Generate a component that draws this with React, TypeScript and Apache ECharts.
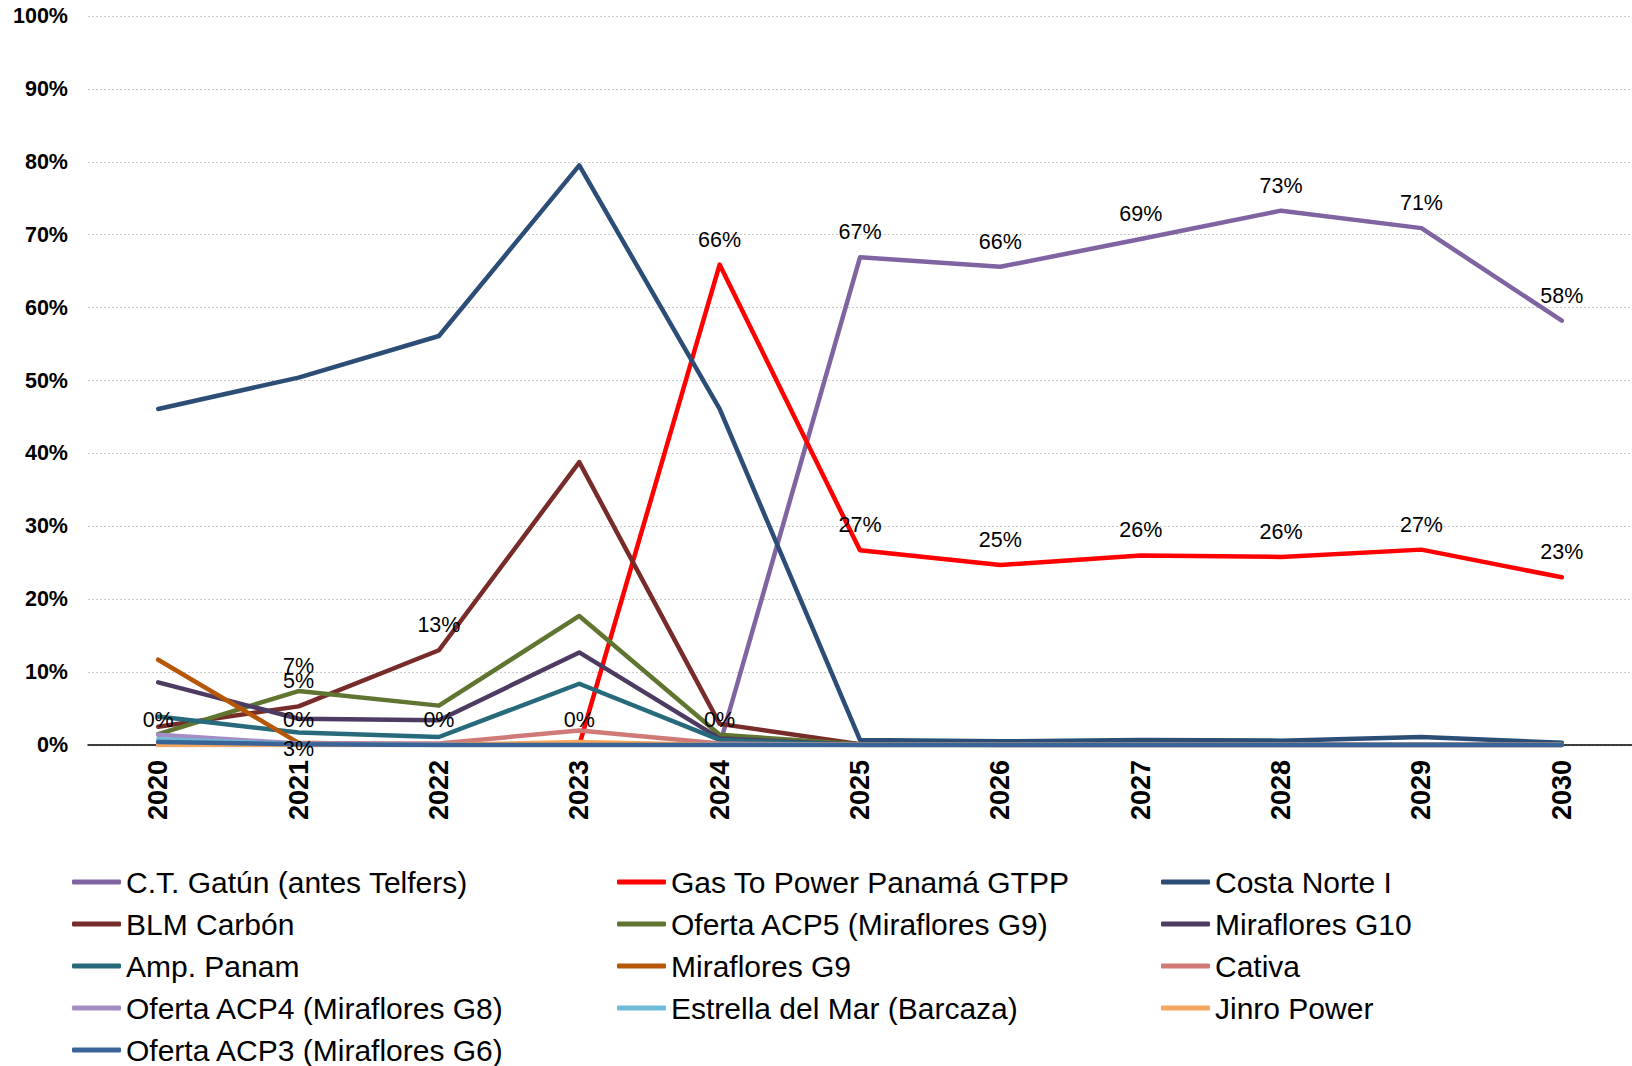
import React, { useEffect, useRef } from "react";
import * as echarts from "echarts";

const years = ["2020", "2021", "2022", "2023", "2024", "2025", "2026", "2027", "2028", "2029", "2030"];
const yTicks = [0, 0.1, 0.2, 0.3, 0.4, 0.5, 0.6, 0.7, 0.8, 0.9, 1];

const gatun = [0, 0, 0, 0, 0, 0.669, 0.656, 0.694, 0.733, 0.709, 0.582];
const gtpp = [null, null, null, 0, 0.659, 0.267, 0.247, 0.26, 0.258, 0.268, 0.23];
const costaNorte = [0.461, 0.504, 0.561, 0.795, 0.461, 0.007, 0.005, 0.007, 0.006, 0.011, 0.003];
const blm = [0.025, 0.053, 0.13, 0.388, 0.029, 0.001, 0, 0, 0, 0, 0];
const acp5 = [0.015, 0.074, 0.054, 0.177, 0.014, 0.001, 0, 0, 0, 0, 0];
const g10 = [0.086, 0.036, 0.034, 0.127, 0.009, 0, 0, 0, 0, 0, 0];
const ampPanam = [0.039, 0.017, 0.011, 0.084, 0.007, 0, 0, 0, 0, 0, 0];
const g9 = [0.117, 0.003, 0, 0, 0, 0, 0, 0, 0, 0, 0];
const cativa = [0.003, 0.002, 0.002, 0.02, 0.002, 0, 0, 0, 0, 0, 0];
const acp4 = [0.014, 0.002, 0.001, 0.001, 0.001, 0, 0, 0, 0, 0, 0];
const estrella = [0.008, 0.001, 0, 0, 0, 0, 0, 0, 0, 0, 0];
const jinro = [0, 0, 0, 0.004, 0, 0, 0, 0, 0, 0, 0];
const acp3 = [0.004, 0.001, 0, 0, 0, 0, 0, 0, 0, 0, 0];

const FONT = "'Liberation Sans', Arial, sans-serif";

const pct = (p: any) => Math.round(p.value * 100) + "%";

function withLabels(values: (number | null)[], idx: number[], extra: any = {}) {
  return values.map((v, i) =>
    idx.includes(i) ? { value: v, label: { show: true, ...extra } } : { value: v }
  );
}

const seriesDefs: { name: string; color: string; data: any[] }[] = [
  { name: "C.T. Gatún (antes Telfers)", color: "#8064A2", data: withLabels(gatun, [0, 1, 2, 3, 4, 5, 6, 7, 8, 9, 10]) },
  { name: "Gas To Power Panamá GTPP", color: "#FF0000", data: withLabels(gtpp, [4, 5, 6, 7, 8, 9, 10]) },
  { name: "Costa Norte I", color: "#2C4D75", data: withLabels(costaNorte, []) },
  { name: "BLM Carbón", color: "#772C2A", data: withLabels(blm, [1, 2]) },
  { name: "Oferta ACP5 (Miraflores G9)", color: "#5F7530", data: withLabels(acp5, [1]) },
  { name: "Miraflores G10", color: "#4D3B62", data: withLabels(g10, []) },
  { name: "Amp. Panam", color: "#276A7C", data: withLabels(ampPanam, []) },
  {
    name: "Miraflores G9",
    color: "#B65708",
    data: withLabels(g9, [1], { position: "inside", offset: [0, 6], formatter: "3%" }),
  },
  { name: "Cativa", color: "#D07A78", data: withLabels(cativa, []) },
  { name: "Oferta ACP4 (Miraflores G8)", color: "#A48CC4", data: withLabels(acp4, []) },
  { name: "Estrella del Mar (Barcaza)", color: "#6FBAD6", data: withLabels(estrella, []) },
  { name: "Jinro Power", color: "#F7A65E", data: withLabels(jinro, []) },
  { name: "Oferta ACP3 (Miraflores G6)", color: "#3A6498", data: withLabels(acp3, []) },
];

const legendCols = [
  { left: 72, names: [0, 3, 6, 9, 12] },
  { left: 617, names: [1, 4, 7, 10] },
  { left: 1161, names: [2, 5, 8, 11] },
];

export default function App() {
  const ref = useRef<HTMLDivElement>(null);
  useEffect(() => {
    if (!ref.current) return;
    const chart = echarts.init(ref.current, null, { renderer: "svg" });
    chart.setOption({
      animation: false,
      backgroundColor: "#fff",
      textStyle: { fontFamily: FONT },
      grid: { left: 88, top: 16, width: 1551, height: 729, containLabel: false },
      xAxis: {
        type: "category",
        data: years,
        boundaryGap: true,
        axisLine: { show: true, onZero: true, lineStyle: { color: "#000", width: 1.5 } },
        axisTick: { show: false },
        axisLabel: {
          rotate: 90,
          margin: 15,
          fontSize: 27,
          fontWeight: "bold",
          color: "#000",
          fontFamily: FONT,
        },
      },
      yAxis: {
        type: "value",
        min: yTicks[0],
        max: yTicks[yTicks.length - 1],
        interval: 0.1,
        axisLine: { show: false },
        axisTick: { show: false },
        splitLine: { show: true, lineStyle: { color: "#C8C8C8", type: [2, 2], width: 1 } },
        axisLabel: {
          margin: 20,
          fontSize: 21.5,
          fontWeight: "bold",
          color: "#000",
          fontFamily: FONT,
          formatter: (v: number) => Math.round(v * 100) + "%",
        },
      },
      legend: legendCols.map((c) => ({
        orient: "vertical",
        left: c.left,
        top: 867,
        height: 220,
        padding: 0,
        itemWidth: 49,
        itemHeight: 5,
        itemGap: 12,
        icon: "roundRect",
        textStyle: { fontSize: 30, color: "#000", fontFamily: FONT, lineHeight: 26 },
        data: c.names.map((i) => seriesDefs[i].name),
      })),
      series: seriesDefs.map((s) => ({
        name: s.name,
        type: "line",
        data: s.data,
        color: s.color,
        showSymbol: true,
        symbol: "circle",
        symbolSize: 0.1,
        connectNulls: false,
        lineStyle: { color: s.color, width: 4.5, cap: "round", join: "round" },
        itemStyle: { color: s.color },
        emphasis: { disabled: true },
        label: {
          show: false,
          position: "top",
          distance: 14,
          fontSize: 21.5,
          color: "#000",
          fontFamily: FONT,
          formatter: pct,
        },
      })),
    });
    return () => chart.dispose();
  }, []);
  return (
    <div
      ref={ref}
      style={{ position: "fixed", left: 0, top: 0, width: 1632, height: 1066, background: "#fff" }}
    />
  );
}
